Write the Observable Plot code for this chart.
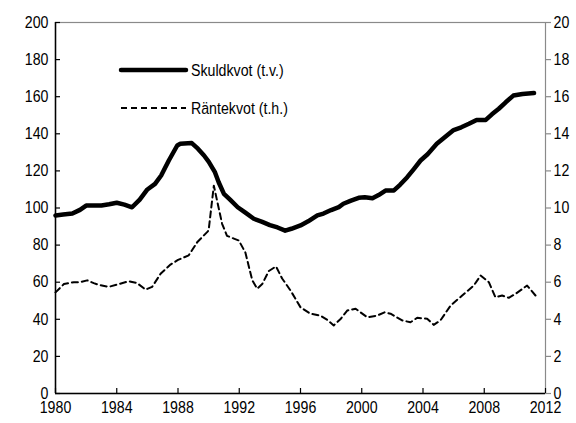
<!DOCTYPE html>
<html>
<head>
<meta charset="utf-8">
<script src="https://cdn.jsdelivr.net/npm/d3@7"></script>
<script src="https://cdn.jsdelivr.net/npm/@observablehq/plot@0.6"></script>
<style>
  html, body { margin: 0; padding: 0; background: #fff; }
  #wrap { position: relative; width: 576px; height: 423px; font-family: "Liberation Sans", Arial, sans-serif; }
  #legend { position: absolute; left: 0; top: 0; pointer-events: none; }
</style>
</head>
<body>
<div id="wrap"></div>
<script>
// Skuldkvot (debt ratio, percent of disposable income) – left axis
const skuldYears = [1980.0,1980.5,1981.1,1981.6,1982.0,1982.5,1983.0,1983.5,1984.0,1984.5,1985.0,1985.5,1986.0,1986.5,1986.9,1987.4,1987.95,1988.15,1988.9,1989.3,1989.7,1990.0,1990.4,1990.65,1991.0,1991.4,1991.9,1992.4,1992.95,1993.5,1994.0,1994.5,1995.0,1995.4,1996.0,1996.5,1997.1,1997.5,1998.0,1998.5,1998.8,1999.3,1999.8,2000.2,2000.7,2001.1,2001.55,2002.1,2002.5,2002.97,2003.4,2003.84,2004.3,2004.9,2005.4,2006.0,2006.5,2007.0,2007.5,2008.1,2008.5,2008.95,2009.4,2009.9,2010.5,2011.25];
const skuldValues = [96,96.5,97,99,101.3,101.3,101.4,102,102.8,101.8,100.4,104.5,110,113,117.5,125.6,133.7,134.6,135,132,128.3,125,119.5,114,107.6,104.5,100.4,97.5,94.2,92.5,90.8,89.5,87.8,88.8,90.6,92.8,96,97,98.9,100.5,102.3,104,105.5,105.8,105.3,107,109.4,109.5,112.5,116.6,121,125.6,129,134.6,138,142,143.5,145.4,147.5,147.5,150.5,153.5,157,160.6,161.5,162];

// Räntekvot (interest ratio, percent) – right axis
const ranteYears = [1980.0,1980.55,1981.2,1981.6,1982.07,1982.5,1982.83,1983.48,1984.14,1984.79,1985.33,1985.88,1986.31,1986.86,1987.51,1988.0,1988.7,1989.25,1989.9,1990.0,1990.34,1990.88,1991.2,1991.65,1991.97,1992.4,1992.85,1993.17,1993.5,1993.93,1994.4,1994.8,1995.35,1996.0,1996.65,1997.3,1997.7,1998.17,1998.6,1999.05,1999.6,2000.36,2001.0,2001.5,2001.88,2002.64,2003.18,2003.62,2004.27,2004.7,2005.14,2005.8,2006.56,2007.32,2007.76,2008.3,2008.73,2009.17,2009.6,2010.04,2010.8,2011.35];
const ranteValues = [5.45,5.9,6.0,6.0,6.1,5.95,5.85,5.75,5.9,6.05,5.95,5.6,5.75,6.45,6.95,7.2,7.45,8.15,8.7,8.8,11.2,9.15,8.5,8.35,8.25,7.6,6.1,5.65,5.9,6.6,6.85,6.2,5.55,4.65,4.3,4.2,4.0,3.67,4.0,4.47,4.57,4.11,4.2,4.38,4.3,3.94,3.84,4.08,4.03,3.7,3.94,4.74,5.28,5.82,6.36,6.0,5.19,5.28,5.16,5.37,5.82,5.28];

const xTicks = [1980,1984,1988,1992,1996,2000,2004,2008,2012];
const leftTicks = [0,20,40,60,80,100,120,140,160,180,200];
const rightTickLabels = [0,2,4,6,8,10,12,14,16,18,20];
const legendLabels = ["Skuldkvot (t.v.)", "Räntekvot (t.h.)"];

const skuld = skuldYears.map((x, i) => ({x, y: skuldValues[i]}));
const rante = ranteYears.map((x, i) => ({x, y: ranteValues[i] * 10})); // right axis scale ×10

const W = 576, H = 423, mL = 55, mR = 31, mT = 22, mB = 30;
const pw = W - mL - mR, ph = H - mT - mB;
const font = '"Liberation Sans", Arial, sans-serif';
const FS = 16.5, SX = 0.86; // condensed look

const chart = Plot.plot({
  width: W, height: H,
  marginLeft: mL, marginRight: mR, marginTop: mT, marginBottom: mB,
  style: {fontFamily: font, fontSize: FS + "px", color: "#000", background: "#fff"},
  x: {domain: [1980, 2012]},
  y: {domain: [0, 200]},
  marks: [
    Plot.frame({stroke: "#8a8a8a", strokeWidth: 1.2}),
    Plot.axisY(leftTicks, {anchor: "left", tickSize: 0, tickPadding: 7, fontSize: FS, label: null}),
    Plot.tickY(leftTicks, {y: d => d, insetRight: pw - 5, stroke: "#000", strokeWidth: 1.2}),
    Plot.axisY(leftTicks, {anchor: "right", tickSize: 5, tickPadding: 3, stroke: "#8a8a8a", strokeWidth: 1.2, fill: "#000", fontSize: FS, label: null,
      tickFormat: (d, i) => String(rightTickLabels[i])}),
    Plot.axisX(xTicks, {anchor: "bottom", tickSize: 0, tickPadding: 8, fontSize: FS, label: null, tickFormat: d => String(d)}),
    Plot.tickX(xTicks, {x: d => d, insetTop: ph - 5, stroke: "#000", strokeWidth: 1.2}),
    Plot.ruleX([1980], {stroke: "#000", strokeWidth: 1.5}),
    Plot.ruleY([0], {stroke: "#000", strokeWidth: 1.5}),
    Plot.line(rante, {x: "x", y: "y", stroke: "#000", strokeWidth: 2, strokeDasharray: "6,4", curve: "linear"}),
    Plot.line(skuld, {x: "x", y: "y", stroke: "#000", strokeWidth: 4.5, strokeLinejoin: "round", strokeLinecap: "round", curve: "linear"})
  ]
});

// condense all text horizontally
chart.querySelectorAll("text").forEach(t => {
  const tr = t.getAttribute("transform") || "";
  t.setAttribute("transform", (tr + ` scale(${SX},1)`).trim());
});

const wrap = document.getElementById("wrap");
wrap.appendChild(chart);

// legend overlay
const ns = "http://www.w3.org/2000/svg";
const lg = document.createElementNS(ns, "svg");
lg.setAttribute("id", "legend");
lg.setAttribute("width", W);
lg.setAttribute("height", H);
const items = [
  {y: 70, w: 4.5, dash: null},
  {y: 108, w: 2, dash: "6,4"}
];
items.forEach((it, i) => {
  const l = document.createElementNS(ns, "line");
  l.setAttribute("x1", 121); l.setAttribute("x2", 186);
  l.setAttribute("y1", it.y); l.setAttribute("y2", it.y);
  l.setAttribute("stroke", "#000"); l.setAttribute("stroke-width", it.w);
  if (it.dash) l.setAttribute("stroke-dasharray", it.dash);
  else l.setAttribute("stroke-linecap", "round");
  lg.appendChild(l);
  const t = document.createElementNS(ns, "text");
  t.setAttribute("transform", `translate(191,${it.y}) scale(${SX},1)`);
  t.setAttribute("dy", "0.35em");
  t.setAttribute("font-size", FS);
  t.setAttribute("font-family", font);
  t.textContent = legendLabels[i];
  lg.appendChild(t);
});
wrap.appendChild(lg);
</script>
</body>
</html>
